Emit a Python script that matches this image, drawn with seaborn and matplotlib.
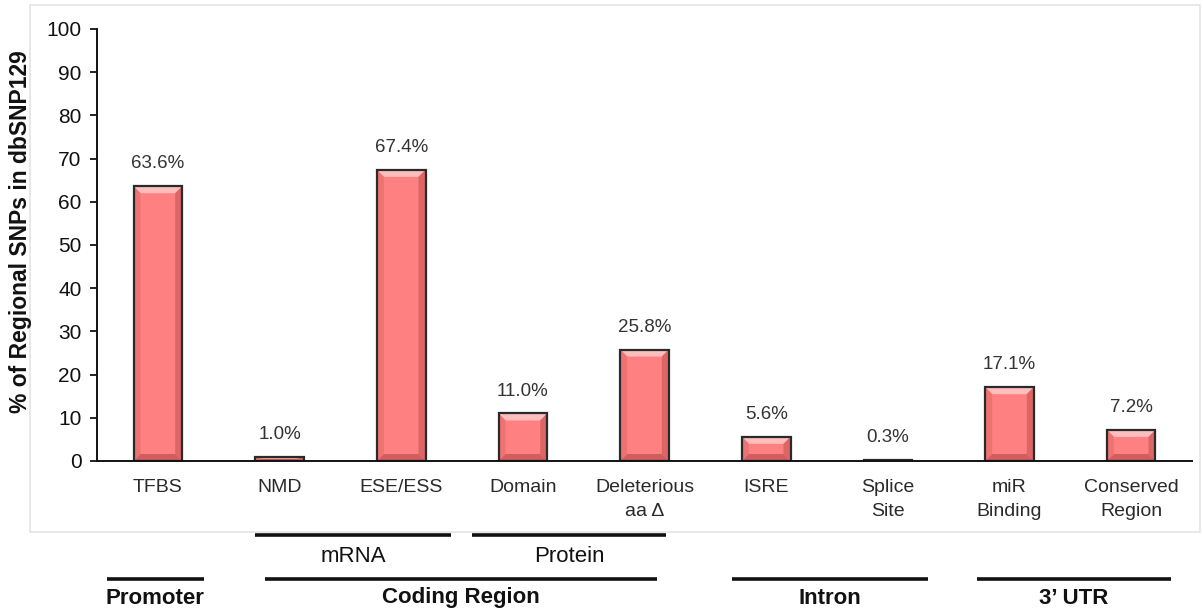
import matplotlib
matplotlib.use("Agg")
import matplotlib.pyplot as plt
import matplotlib.transforms as mtransforms
from matplotlib.patches import Polygon, Rectangle
import pandas as pd
import seaborn as sns

# ---- data -------------------------------------------------------------
categories = ["TFBS", "NMD", "ESE/ESS", "Domain", "Deleterious\naa \u0394",
              "ISRE", "Splice\nSite", "miR\nBinding", "Conserved\nRegion"]
percent = [63.6, 1.0, 67.4, 11.0, 25.8, 5.6, 0.3, 17.1, 7.2]
y_ticks = [0, 10, 20, 30, 40, 50, 60, 70, 80, 90, 100]

# second-level labels under the axis
subgroup_names = ["mRNA", "Protein"]
region_names = ["Promoter", "Coding Region", "Intron", "3\u2019 UTR"]

# ---- layout (category units for x) -------------------------------------
subgroup_spans = [(0.80, 2.41), (2.58, 4.18)]
region_spans = [(-0.42, 0.38), (0.88, 4.10), (4.72, 6.33), (6.73, 8.33)]

W, H = 1203, 610
sns.set_style("white")
plt.rcParams["font.family"] = ["Liberation Sans", "DejaVu Sans"]

fig = plt.figure(figsize=(W / 100, H / 100), dpi=100)

# light frame around the chart area (kept behind everything else)
fig.add_artist(Rectangle((30 / W, 1 - 532 / H), (1200 - 30) / W, (532 - 5) / H,
                         transform=fig.transFigure, fill=False,
                         edgecolor="#e4e4e4", linewidth=1.2, zorder=-5))

ax = fig.add_axes([97 / W, 1 - 461 / H, (1192 - 97) / W, (461 - 29) / H])
ax.patch.set_alpha(0)

df = pd.DataFrame({"category": categories, "percent": percent})
sns.barplot(data=df, x="category", y="percent", ax=ax, color="#FF8080",
            saturation=1, width=0.40, edgecolor="none", linewidth=0)

ax.set_xlim(-0.5, len(categories) - 0.5)
ax.set_ylim(0, 100)
ax.set_yticks(y_ticks)
ax.set_xlabel("")
ax.set_ylabel("")

# bevelled look for each bar, built from the bar geometry
px_x = (len(categories)) / ((1192 - 97))          # data units per pixel (x)
px_y = 100 / (461 - 29)                             # data units per pixel (y)
bev = 7
for p in ax.patches:
    x0, y0 = p.get_x(), p.get_y()
    w, h = p.get_width(), p.get_height()
    x1, y1 = x0 + w, y0 + h
    bx = bev * px_x
    by = min(bev * px_y, h / 2)
    top = Polygon([(x0, y1), (x1, y1), (x1 - bx, y1 - by), (x0 + bx, y1 - by)],
                  closed=True, facecolor="#FFBEBE", edgecolor="none", zorder=3)
    bot = Polygon([(x0, y0), (x1, y0), (x1 - bx, y0 + by), (x0 + bx, y0 + by)],
                  closed=True, facecolor="#D05E5E", edgecolor="none", zorder=3)
    left = Polygon([(x0, y0), (x0, y1), (x0 + bx, y1 - by), (x0 + bx, y0 + by)],
                   closed=True, facecolor="#EE7272", edgecolor="none", zorder=3)
    right = Polygon([(x1, y0), (x1, y1), (x1 - bx, y1 - by), (x1 - bx, y0 + by)],
                    closed=True, facecolor="#DC6666", edgecolor="none", zorder=3)
    for poly in (top, bot, left, right):
        ax.add_patch(poly)
    ax.add_patch(Rectangle((x0, y0), w, h, fill=False, edgecolor="#2a2a2a",
                           linewidth=1.6, zorder=4))

# value labels
for i, v in enumerate(percent):
    ax.annotate(f"{v:.1f}%", xy=(i, v), xytext=(0, 10), textcoords="offset points",
                ha="center", va="bottom", fontsize=13.5, color="#333333")

# axes styling
for s in ("top", "right"):
    ax.spines[s].set_visible(False)
for s in ("left", "bottom"):
    ax.spines[s].set_color("#111111")
    ax.spines[s].set_linewidth(1.4)
    ax.spines[s].set_zorder(5)

ax.set_xticks(range(len(categories)))
ax.set_xticklabels(categories, fontsize=14, color="#2a2a2a", linespacing=1.55)
ax.set_xticks([k - 0.5 for k in range(len(categories) + 1)], minor=True)
ax.tick_params(axis="x", which="major", length=0, pad=13)
ax.tick_params(axis="x", which="minor", length=5, width=1.3, color="#111111",
               direction="out")
ax.tick_params(axis="y", length=5, width=1.3, color="#111111", direction="out",
               labelsize=15, labelcolor="#111111", pad=6)
ax.tick_params(left=True, bottom=True)

fig.text(21 / W, 1 - 232 / H, "% of Regional SNPs in dbSNP129", rotation=90,
         ha="center", va="center", fontsize=16.5, fontweight="bold", color="#111111")

# grouping bars and labels under the axis
blend = mtransforms.blended_transform_factory(ax.transData, fig.transFigure)
for name, (a, b) in zip(subgroup_names, subgroup_spans):
    ax.plot([a, b], [1 - 535 / H] * 2, transform=blend, color="#111111",
            linewidth=2.6, clip_on=False, solid_capstyle="butt")
    ax.text((a + b) / 2, 1 - 557 / H, name, transform=blend, ha="center",
            va="center", fontsize=16, color="#111111")
for name, (a, b) in zip(region_names, region_spans):
    ax.plot([a, b], [1 - 579 / H] * 2, transform=blend, color="#111111",
            linewidth=2.6, clip_on=False, solid_capstyle="butt")
    ax.text((a + b) / 2, 1 - 598 / H, name, transform=blend, ha="center",
            va="center", fontsize=16, fontweight="bold", color="#111111")

fig.savefig("out.png", dpi=100)
